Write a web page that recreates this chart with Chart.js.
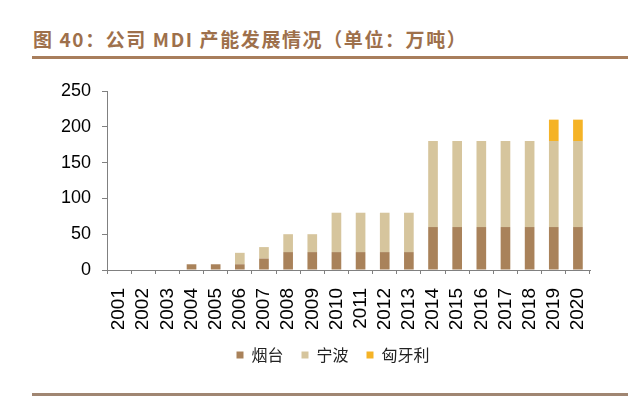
<!DOCTYPE html>
<html>
<head>
<meta charset="utf-8">
<script src="https://cdn.jsdelivr.net/npm/chart.js@4.4.0/dist/chart.umd.min.js"></script>
<style>
    html, body { margin: 0; padding: 0; background: #fff; }
    #wrap { position: relative; width: 640px; height: 398px; overflow: hidden; }
    #title {
        position: absolute; left: 33px; top: 25px;
        font-family: "Noto Sans CJK SC", "Liberation Sans", sans-serif;
        font-weight: bold; font-size: 19px; letter-spacing: 1.6px; color: #9e704b; white-space: nowrap;
    }
    .rule { position: absolute; left: 32px; width: 596px; }
    #topRule { top: 56px; height: 3px; background: #a87e5c; }
    #bottomRule { top: 393px; height: 3px; background: #a08672; }
    #mainChart { position: absolute; left: 0; top: 0; }
</style>
</head>
<body>
<div id="wrap">
    <div id="title">图 40：公司 MDI 产能发展情况（单位：万吨）</div>
    <div id="topRule" class="rule"></div>
    <canvas id="mainChart" width="640" height="398"></canvas>
    <div id="bottomRule" class="rule"></div>
</div>
<script>
const years = ['2001', '2002', '2003', '2004', '2005', '2006', '2007', '2008', '2009', '2010',
    '2011', '2012', '2013', '2014', '2015', '2016', '2017', '2018', '2019', '2020'];
const yantai = [0, 0, 0, 8, 8, 8, 16, 25, 25, 25, 25, 25, 25, 60, 60, 60, 60, 60, 60, 60];
const ningbo = [0, 0, 0, 0, 0, 16, 16, 25, 25, 55, 55, 55, 55, 120, 120, 120, 120, 120, 120, 120];
const hungary = [0, 0, 0, 0, 0, 0, 0, 0, 0, 0, 0, 0, 0, 0, 0, 0, 0, 0, 30, 30];
const yTicks = [0, 50, 100, 150, 200, 250];

const axisColor = '#808080';

// legend in the source sits centred under the whole page, not the chart box
const legendShift = {
    id: 'legendShift',
    afterLayout(chart) {
        chart.legend.left += 38;
        chart.legend.right += 38;
    }
};

const ctx = document.getElementById('mainChart');
new Chart(ctx, {
    type: 'bar',
    data: {
        labels: years,
        datasets: [
            { label: '烟台', data: yantai, backgroundColor: '#a9825a' },
            { label: '宁波', data: ningbo, backgroundColor: '#d6c59d' },
            { label: '匈牙利', data: hungary, backgroundColor: '#f5b326' }
        ]
    },
    options: {
        responsive: false,
        animation: false,
        barPercentage: 0.4,
        categoryPercentage: 1,
        layout: { padding: { left: 0, right: 50, top: 91, bottom: 25 } },
        plugins: {
            tooltip: { enabled: false },
            legend: {
                position: 'bottom',
                labels: {
                    boxWidth: 7, boxHeight: 7, padding: 18, color: '#222',
                    font: { family: '"Noto Sans CJK SC", sans-serif', size: 16 }
                }
            }
        },
        scales: {
            x: {
                stacked: true,
                grid: { display: true, drawOnChartArea: false, offset: true, tickLength: 4, color: axisColor },
                border: { color: axisColor, width: 1 },
                ticks: {
                    color: '#000', autoSkip: false, minRotation: 90, maxRotation: 90, padding: 14,
                    font: { family: '"Liberation Sans", Arial, sans-serif', size: 19 }
                },
                afterFit: (s) => { s.height = 59; }
            },
            y: {
                stacked: true,
                min: 0, max: 250,
                afterBuildTicks: (s) => { s.ticks = yTicks.map(v => ({ value: v })); },
                grid: { display: true, drawOnChartArea: false, tickLength: 5, color: axisColor },
                border: { color: axisColor, width: 1 },
                ticks: { color: '#000', padding: 11, font: { family: '"Liberation Sans", Arial, sans-serif', size: 18 } },
                afterFit: (s) => { s.width = 107; }
            }
        }
    },
    plugins: [legendShift]
});
</script>
</body>
</html>
